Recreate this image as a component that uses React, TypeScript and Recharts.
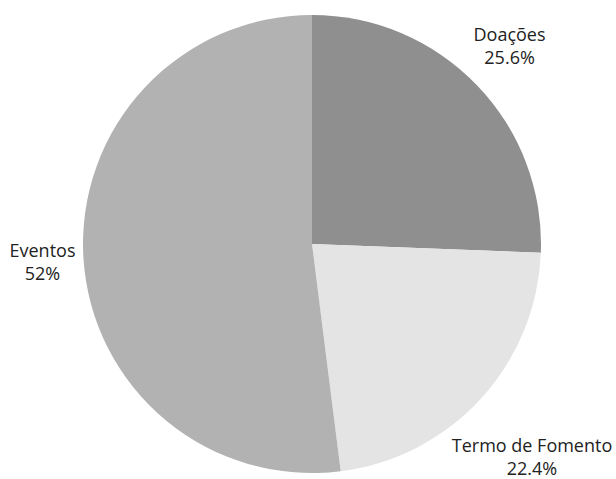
import { PieChart, Pie, Cell } from "recharts"

const categories = ["Doações", "Termo de Fomento", "Eventos"]
const shares = [25.6, 22.4, 52]
const percentLabels = ["25.6%", "22.4%", "52%"]

const colors = ["#8f8f8f", "#e4e4e4", "#b2b2b2"]

const data = categories.map((name, i) => ({
  name,
  value: shares[i],
  pct: percentLabels[i],
}))

// small nudges so the labels sit where the original put them
const nudge: Record<string, [number, number]> = {
  "Doações": [11, -23],
  "Termo de Fomento": [29, 33],
  "Eventos": [-11, -3],
}

const RAD = Math.PI / 180

function renderLabel(props: any) {
  const { cx, cy, midAngle, outerRadius, payload } = props
  const r = outerRadius + 30
  const [dx, dy] = nudge[payload.name] ?? [0, 0]
  const x = cx + r * Math.cos(-midAngle * RAD) + dx
  const y = cy + r * Math.sin(-midAngle * RAD) + dy
  return (
    <text
      x={x}
      y={y}
      textAnchor="middle"
      fill="#222"
      fontSize={18}
      fontFamily="'Open Sans', sans-serif"
    >
      <tspan x={x} dy={0}>{payload.name}</tspan>
      <tspan x={x} dy={23}>{payload.pct}</tspan>
    </text>
  )
}

export default function App() {
  return (
    <div style={{ position: "absolute", left: 0, top: 0, background: "#fff" }}>
      <PieChart width={616} height={479}>
        <Pie
          data={data}
          dataKey="value"
          nameKey="name"
          cx={307}
          cy={239}
          outerRadius={229}
          startAngle={90}
          endAngle={-270}
          stroke="none"
          label={renderLabel}
          labelLine={false}
          isAnimationActive={false}
        >
          {data.map((d, i) => (
            <Cell key={d.name} fill={colors[i]} />
          ))}
        </Pie>
      </PieChart>
    </div>
  )
}
